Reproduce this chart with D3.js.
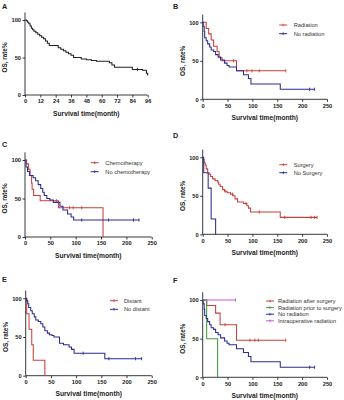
<!DOCTYPE html>
<html><head><meta charset="utf-8">
<script src="https://cdn.jsdelivr.net/npm/d3@7"></script>
<style>body{margin:0;background:#fff}svg{display:block}text{font-family:"Liberation Sans",Arial,sans-serif}</style>
</head><body><svg id="c" width="344" height="400"></svg>
<script>
// ---------- tick labels ----------
const xTicksA = [0, 12, 24, 36, 48, 60, 72, 84, 96];
const xTicksKM = [0, 50, 100, 150, 200, 250];
const yTicks = [0, 50, 100];

// ---------- Panel A: all patients ----------
const A_time = [0, 1, 2, 3, 4, 5, 6, 7, 8.5, 10, 11.5, 13, 14.5, 16, 17.5, 19, 26, 28, 30, 32, 34, 36, 38, 44, 48, 52, 56, 66, 68, 70, 84, 92, 95, 96];
const A_surv = [100, 99, 97, 95, 92, 89, 87, 85, 83, 81, 79, 77, 75, 72, 69, 66, 63, 61, 59, 57, 55, 53, 50, 48, 47, 46, 45, 43, 40, 37, 34, 33, 29, 26];
const A_cens = [88];
const A_end = 96;

// ---------- Panel B ----------
const B_rad_time = [0, 7, 12, 17, 22, 29, 33, 39, 68];
const B_rad_surv = [100, 92, 85, 77, 69, 62, 54, 50, 37];
const B_rad_cens = [62, 89, 99, 114, 167];
const B_rad_end = 167;
const B_norad_time = [0, 1, 3, 4, 7, 10, 14, 17, 22, 26, 31, 36, 44, 49, 53, 68, 82, 92, 97, 156];
const B_norad_surv = [100, 95, 88, 80, 76, 72, 68, 64, 62, 58, 55, 51, 47, 44, 42, 37, 32, 27, 20, 13];
const B_norad_cens = [215, 225];
const B_norad_end = 225;

// ---------- Panel C ----------
const C_chemo_time = [0, 3, 7, 10, 13, 14, 17, 30, 66, 154];
const C_chemo_surv = [100, 95, 88, 80, 70, 62, 54, 47, 38, 0];
const C_chemo_cens = [62, 88, 95, 112];
const C_nochemo_time = [0, 2, 5, 9, 16, 21, 26, 31, 35, 38, 43, 49, 56, 69, 75, 84, 91, 96];
const C_nochemo_surv = [100, 91, 85, 80, 77, 73, 68, 63, 58, 54, 50, 48, 45, 40, 35, 30, 26, 22];
const C_nochemo_cens = [112, 165, 214, 225];
const C_nochemo_end = 225;

// ---------- Panel D ----------
const D_surg_time = [0, 1, 3, 5, 7, 10, 13, 16, 20, 25, 30, 32, 35, 40, 44, 49, 56, 61, 65, 70, 82, 89, 92, 96, 156];
const D_surg_surv = [100, 97, 93, 90, 85, 80, 78, 75, 72, 70, 68, 65, 62, 58, 56, 54, 52, 50, 46, 42, 40, 37, 34, 29, 22];
const D_surg_cens = [45, 60, 87, 114, 165, 218, 225, 230];
const D_surg_end = 230;
const D_nosurg_time = [0, 2, 11, 17, 26];
const D_nosurg_surv = [100, 80, 60, 20, 0];

// ---------- Panel E ----------
const E_dist_time = [0, 2, 6.6, 12, 15, 38];
const E_dist_surv = [100, 80, 60, 40, 20, 0];
const E_nodist_time = [0, 2, 4, 6, 10, 13, 17, 20, 25, 30, 34, 38, 43, 47, 52, 56, 67, 75, 86, 91, 96, 157];
const E_nodist_surv = [100, 97, 93, 88, 84, 80, 76, 72, 70, 67, 63, 58, 55, 53, 52, 50, 42, 40, 37, 34, 29, 22];
const E_nodist_cens = [114, 165, 218, 230];
const E_nodist_end = 230;

// ---------- Panel F ----------
const F_after_time = [0, 8, 26, 35, 68];
const F_after_surv = [100, 93, 83, 68, 48];
const F_after_cens = [45, 95, 105, 112, 167];
const F_after_end = 167;
const F_prior_time = [0, 8, 30];
const F_prior_surv = [100, 50, 0];
const F_intra_time = [0];
const F_intra_surv = [100];
const F_intra_cens = [66];
const F_intra_end = 66;

// ---------- colours ----------
const RED = "#c8403a", BLUE = "#2b2d8e", GREEN = "#3d9b3d", MAG = "#c45ad0", BLACK = "#222";

const svg = d3.select("#c");

function survAt(t, s, c) {
  let v = s[0];
  for (let i = 0; i < t.length; i++) if (t[i] <= c) v = s[i];
  return v;
}

function panel(cfg) {
  const x = d3.scaleLinear().domain([0, cfg.xmax]).range([cfg.x0, cfg.x1]);
  const y = d3.scaleLinear().domain([0, 100]).range([cfg.y0, cfg.y100]);
  const g = svg.append("g");
  const xa = d3.axisBottom(x).tickValues(cfg.xticks).tickSize(2.5).tickPadding(1.5).tickFormat(d3.format("d"));
  const ya = d3.axisLeft(y).tickValues(yTicks).tickSize(2.5).tickPadding(1.5).tickFormat(d3.format("d"));
  const gx = g.append("g").attr("transform", `translate(0,${cfg.y0})`).call(xa);
  const gy = g.append("g").attr("transform", `translate(${cfg.x0},0)`).call(ya);
  [gx, gy].forEach(a => {
    a.select(".domain").remove();
    a.selectAll("line").attr("stroke", BLACK).attr("stroke-width", 0.9);
    a.selectAll("text").attr("font-size", 5.7).attr("font-weight", "bold").attr("fill", BLACK);
  });
  gx.selectAll("text").attr("dy", "0.75em");
  g.append("line").attr("x1", cfg.x0).attr("x2", cfg.x1).attr("y1", cfg.y0).attr("y2", cfg.y0)
    .attr("stroke", BLACK).attr("stroke-width", 0.9);
  g.append("line").attr("x1", cfg.x0).attr("x2", cfg.x0).attr("y1", cfg.y0).attr("y2", y(110))
    .attr("stroke", BLACK).attr("stroke-width", 0.9);
  g.append("text").attr("x", (cfg.x0 + cfg.x1) / 2).attr("y", cfg.y0 + 20.5)
    .attr("text-anchor", "middle").attr("font-size", 6.7).attr("font-weight", "bold").attr("fill", BLACK)
    .text("Survival time(month)");
  g.append("text").attr("transform", `translate(${cfg.x0 - 18},${(cfg.y0 + cfg.y100) / 2}) rotate(-90)`)
    .attr("text-anchor", "middle").attr("font-size", 6.4).attr("font-weight", "bold").attr("fill", BLACK)
    .text("OS, rate%");
  g.append("text").attr("x", cfg.lx).attr("y", cfg.ly).attr("font-size", 7.2).attr("font-weight", "bold")
    .attr("fill", BLACK).text(cfg.letter);
  const line = d3.line().x(d => x(d[0])).y(d => y(d[1])).curve(d3.curveStepAfter);
  cfg.series.forEach(sr => {
    const pts = sr.t.map((v, i) => [v, sr.s[i]]);
    if (sr.end != null) pts.push([sr.end, sr.s[sr.s.length - 1]]);
    g.append("path").attr("d", line(pts)).attr("fill", "none").attr("stroke", sr.color).attr("stroke-width", 1.05);
    (sr.c || []).forEach(c => {
      const v = survAt(sr.t, sr.s, c);
      g.append("line").attr("x1", x(c)).attr("x2", x(c)).attr("y1", y(v) - 1.6).attr("y2", y(v) + 1.6)
        .attr("stroke", sr.color).attr("stroke-width", 0.9);
    });
  });
  cfg.series.filter(sr => sr.name).forEach((sr, i) => {
    const ly = cfg.legY + i * cfg.legDy;
    g.append("line").attr("x1", cfg.legX).attr("x2", cfg.legX + 8).attr("y1", ly).attr("y2", ly)
      .attr("stroke", sr.color).attr("stroke-width", 1);
    g.append("line").attr("x1", cfg.legX + 4).attr("x2", cfg.legX + 4).attr("y1", ly - 1.3).attr("y2", ly + 1.3)
      .attr("stroke", sr.color).attr("stroke-width", 0.9);
    g.append("text").attr("x", cfg.legX + cfg.legTx).attr("y", ly).attr("dy", "0.35em")
      .attr("font-size", 5.7).attr("fill", "#333").text(sr.name);
  });
}

panel({letter: "A", lx: 2, ly: 9, xmax: 96, xticks: xTicksA, x0: 25, x1: 147.7, y0: 95, y100: 20,
  series: [{t: A_time, s: A_surv, c: A_cens, end: A_end, color: BLACK}]});

panel({letter: "B", lx: 173, ly: 9, xmax: 250, xticks: xTicksKM, x0: 202.7, x1: 327, y0: 99.3, y100: 22.3,
  legX: 279.2, legY: 25, legDy: 8.7, legTx: 14.5,
  series: [
    {name: "Radiation", t: B_rad_time, s: B_rad_surv, c: B_rad_cens, end: B_rad_end, color: RED},
    {name: "No radiation", t: B_norad_time, s: B_norad_surv, c: B_norad_cens, end: B_norad_end, color: BLUE}]});

panel({letter: "C", lx: 2, ly: 147, xmax: 250, xticks: xTicksKM, x0: 25, x1: 151.7, y0: 237, y100: 160,
  legX: 90.7, legY: 162.7, legDy: 9, legTx: 14.6,
  series: [
    {name: "Chemotherapy", t: C_chemo_time, s: C_chemo_surv, c: C_chemo_cens, color: RED},
    {name: "No chemotherapy", t: C_nochemo_time, s: C_nochemo_surv, c: C_nochemo_cens, end: C_nochemo_end, color: BLUE}]});

panel({letter: "D", lx: 173, ly: 137.5, xmax: 250, xticks: xTicksKM, x0: 202.7, x1: 327, y0: 234.3, y100: 157.3,
  legX: 279.3, legY: 164.7, legDy: 8, legTx: 14.4,
  series: [
    {name: "Surgery", t: D_surg_time, s: D_surg_surv, c: D_surg_cens, end: D_surg_end, color: RED},
    {name: "No Surgery", t: D_nosurg_time, s: D_nosurg_surv, color: BLUE}]});

panel({letter: "E", lx: 2, ly: 282, xmax: 250, xticks: xTicksKM, x0: 25.7, x1: 151.7, y0: 375.7, y100: 298.3,
  legX: 110, legY: 300.7, legDy: 8.6, legTx: 14,
  series: [
    {name: "Distant", t: E_dist_time, s: E_dist_surv, color: RED},
    {name: "No distant", t: E_nodist_time, s: E_nodist_surv, c: E_nodist_cens, end: E_nodist_end, color: BLUE}]});

panel({letter: "F", lx: 173, ly: 283, xmax: 250, xticks: xTicksKM, x0: 202.7, x1: 327, y0: 377.3, y100: 300,
  legX: 266, legY: 301, legDy: 6.6, legTx: 12,
  series: [
    {name: "Radiation after surgery", t: F_after_time, s: F_after_surv, c: F_after_cens, end: F_after_end, color: RED},
    {name: "Radiation prior to surgery", t: F_prior_time, s: F_prior_surv, color: GREEN},
    {name: "No radiation", t: B_norad_time, s: B_norad_surv, c: B_norad_cens, end: B_norad_end, color: BLUE},
    {name: "Intraoperative radiation", t: F_intra_time, s: F_intra_surv, c: F_intra_cens, end: F_intra_end, color: MAG}]});
</script></body></html>
